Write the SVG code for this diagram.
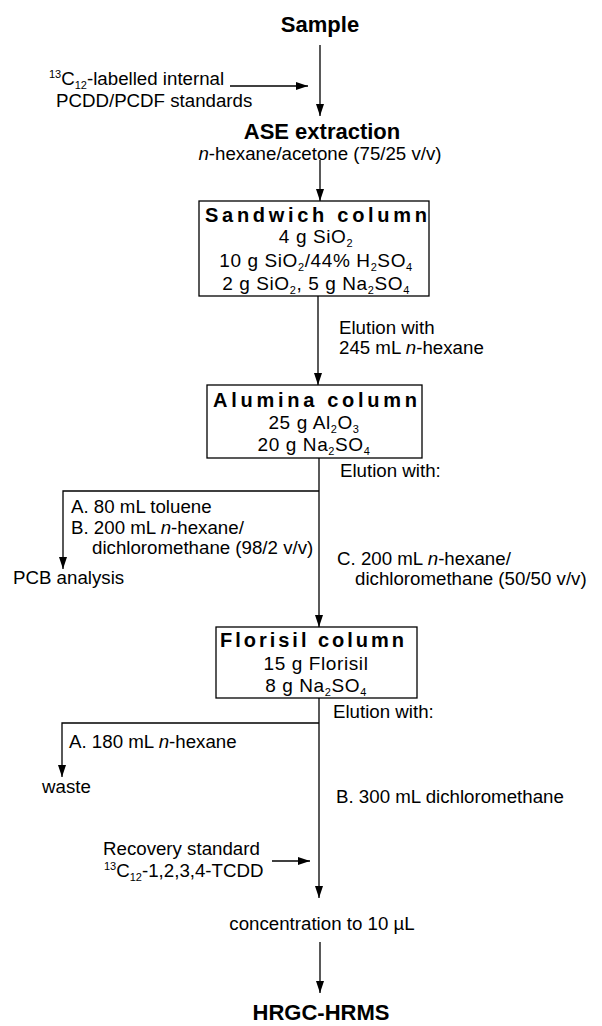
<svg xmlns="http://www.w3.org/2000/svg" width="602" height="1026" viewBox="0 0 602 1026">
<defs>
<marker id="ah" markerUnits="userSpaceOnUse" markerWidth="12" markerHeight="8" refX="12" refY="4" orient="auto">
<path d="M0,0 L12,4 L0,8 z" fill="#000"/>
</marker>
<style>
text{font-family:"Liberation Sans",Arial,sans-serif;fill:#000}
.t{font-size:18.7px}
.h{font-size:22px;font-weight:bold}
.bt{font-size:20px;font-weight:bold}
.bx{font-size:19px;letter-spacing:0.6px}
.s{font-size:11px}
.c{stroke:#000;stroke-width:1.3;fill:none}
.a{marker-end:url(#ah)}
rect{fill:#fff;stroke:#000;stroke-width:1.3}
</style>
</defs>
<g id="connectors">
<line class="c a" x1="320" y1="45" x2="320" y2="116"/>
<line class="c a" x1="230" y1="86" x2="308" y2="86"/>
<line class="c a" x1="320" y1="160" x2="320" y2="201"/>
<line class="c a" x1="318" y1="296" x2="318" y2="385"/>
<line class="c a" x1="319" y1="458" x2="319" y2="627"/>
<polyline class="c a" points="319,491 63,491 63,569"/>
<line class="c a" x1="319" y1="698" x2="319" y2="898"/>
<polyline class="c a" points="319,723 62,723 62,777"/>
<line class="c a" x1="272" y1="861" x2="310" y2="861"/>
<line class="c a" x1="320" y1="942" x2="320" y2="993"/>
</g>
<g id="sample"><text class="h" x="320" y="32" text-anchor="middle">Sample</text></g>
<g id="internal-standards">
<text class="t" x="49" y="85"><tspan class="s" dy="-7">13</tspan><tspan dy="7">C</tspan><tspan class="s" dy="4">12</tspan><tspan dy="-4">-labelled internal</tspan></text>
<text class="t" x="56" y="107">PCDD/PCDF standards</text>
</g>
<g id="ase">
<text class="h" x="322" y="139" text-anchor="middle">ASE extraction</text>
<text class="t" x="320" y="160" text-anchor="middle"><tspan font-style="italic">n</tspan>-hexane/acetone (75/25 v/v)</text>
</g>
<g id="sandwich">
<rect x="199" y="201" width="230" height="95"/>
<text class="bt" x="205" y="222" textLength="222" lengthAdjust="spacing">Sandwich column</text>
<text class="bx" x="316" y="243" text-anchor="middle">4 g SiO<tspan class="s" dy="4">2</tspan></text>
<text class="bx" x="316" y="267" text-anchor="middle">10 g SiO<tspan class="s" dy="4">2</tspan><tspan dy="-4">/44% H</tspan><tspan class="s" dy="4">2</tspan><tspan dy="-4">SO</tspan><tspan class="s" dy="4">4</tspan></text>
<text class="bx" x="316" y="290" text-anchor="middle">2 g SiO<tspan class="s" dy="4">2</tspan><tspan dy="-4">, 5 g Na</tspan><tspan class="s" dy="4">2</tspan><tspan dy="-4">SO</tspan><tspan class="s" dy="4">4</tspan></text>
</g>
<g id="elution1">
<text class="t" x="339" y="334">Elution with</text>
<text class="t" x="339" y="354">245 mL <tspan font-style="italic">n</tspan>-hexane</text>
</g>
<g id="alumina">
<rect x="207" y="385" width="215" height="73"/>
<text class="bt" x="213" y="407" textLength="204" lengthAdjust="spacing">Alumina column</text>
<text class="bx" x="314" y="429" text-anchor="middle">25 g Al<tspan class="s" dy="4">2</tspan><tspan dy="-4">O</tspan><tspan class="s" dy="4">3</tspan></text>
<text class="bx" x="314" y="451" text-anchor="middle">20 g Na<tspan class="s" dy="4">2</tspan><tspan dy="-4">SO</tspan><tspan class="s" dy="4">4</tspan></text>
</g>
<g id="elution2">
<text class="t" x="340" y="477">Elution with:</text>
<text class="t" x="71" y="513">A. 80 mL toluene</text>
<text class="t" x="71" y="534">B. 200 mL <tspan font-style="italic">n</tspan>-hexane/</text>
<text class="t" x="92" y="554">dichloromethane (98/2 v/v)</text>
<text class="t" x="337" y="565">C. 200 mL <tspan font-style="italic">n</tspan>-hexane/</text>
<text class="t" x="355" y="585">dichloromethane (50/50 v/v)</text>
</g>
<g id="pcb"><text class="t" x="13" y="584">PCB analysis</text></g>
<g id="florisil">
<rect x="216" y="627" width="201" height="71"/>
<text class="bt" x="220" y="647" textLength="184" lengthAdjust="spacing">Florisil column</text>
<text class="bx" x="316" y="670" text-anchor="middle">15 g Florisil</text>
<text class="bx" x="316" y="692" text-anchor="middle">8 g Na<tspan class="s" dy="4">2</tspan><tspan dy="-4">SO</tspan><tspan class="s" dy="4">4</tspan></text>
</g>
<g id="elution3">
<text class="t" x="333" y="718">Elution with:</text>
<text class="t" x="69" y="748">A. 180 mL <tspan font-style="italic">n</tspan>-hexane</text>
<text class="t" x="336" y="803">B. 300 mL dichloromethane</text>
</g>
<g id="waste"><text class="t" x="42" y="793">waste</text></g>
<g id="recovery-standard">
<text class="t" x="103" y="855">Recovery standard</text>
<text class="t" x="104" y="877"><tspan class="s" dy="-7">13</tspan><tspan dy="7">C</tspan><tspan class="s" dy="4">12</tspan><tspan dy="-4">-1,2,3,4-TCDD</tspan></text>
</g>
<g id="concentration"><text class="t" x="322" y="930" text-anchor="middle">concentration to 10 µL</text></g>
<g id="hrgc"><text class="h" x="321" y="1020" text-anchor="middle">HRGC-HRMS</text></g>
</svg>
